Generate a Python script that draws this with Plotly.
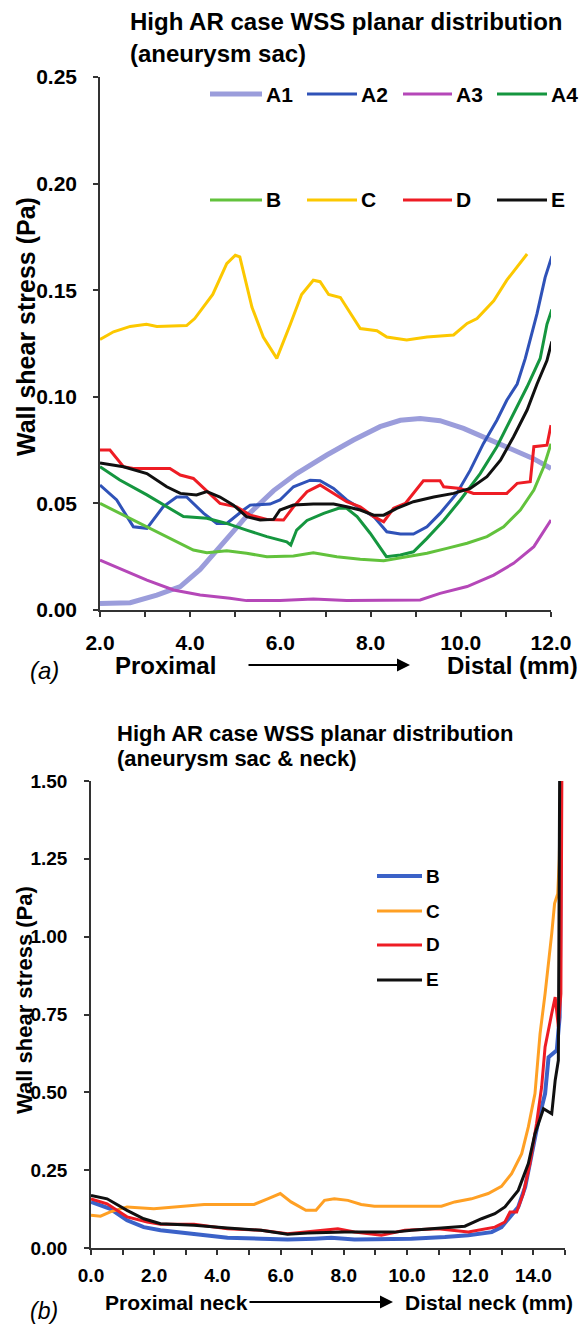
import plotly.graph_objects as go

W, H = 582, 1325

# ---------------- Panel (a) data: WSS (Pa) vs position (mm) ----------------
a1_x = [2.0, 2.67, 3.26, 3.78, 4.22, 4.66, 5.25, 5.85, 6.36, 7.03, 7.62, 8.21, 8.66, 9.1, 9.54, 10.06, 10.65, 11.17, 11.6, 12.0]
a1_y = [0.0031, 0.0034, 0.007, 0.011, 0.019, 0.030, 0.044, 0.056, 0.064, 0.0727, 0.0797, 0.086, 0.089, 0.0898, 0.0888, 0.0852, 0.0797, 0.075, 0.0711, 0.0664]

a2_x = [2.0, 2.37, 2.74, 3.04, 3.4, 3.7, 3.92, 4.3, 4.59, 4.81, 5.18, 5.33, 5.77, 5.99, 6.29, 6.66, 6.88, 7.18, 7.47, 7.84, 8.07, 8.36, 8.66, 8.95, 9.25, 9.54, 9.91, 10.21, 10.5, 10.8, 11.02, 11.25, 11.43, 11.69, 11.87, 12.02]
a2_y = [0.0586, 0.0516, 0.039, 0.0383, 0.0484, 0.053, 0.053, 0.0453, 0.0406, 0.0406, 0.0469, 0.0492, 0.0497, 0.0516, 0.0578, 0.0609, 0.0606, 0.057, 0.0516, 0.0469, 0.0438, 0.0367, 0.0356, 0.0356, 0.039, 0.0453, 0.0547, 0.0656, 0.078, 0.089, 0.0984, 0.106, 0.118, 0.139, 0.156, 0.166]

a3_x = [2.0, 2.52, 3.04, 3.63, 4.22, 4.88, 5.25, 5.99, 6.73, 7.47, 8.21, 9.1, 9.54, 10.14, 10.73, 11.17, 11.62, 12.0]
a3_y = [0.0234, 0.0188, 0.014, 0.0094, 0.007, 0.0055, 0.0044, 0.0044, 0.0052, 0.0044, 0.0044, 0.0047, 0.0078, 0.011, 0.0164, 0.0219, 0.0297, 0.0422]

a4_x = [2.0, 2.44, 3.04, 3.48, 3.85, 4.37, 4.81, 5.25, 5.7, 6.14, 6.23, 6.36, 6.59, 6.96, 7.29, 7.47, 7.7, 7.99, 8.21, 8.35, 8.66, 8.95, 9.25, 9.62, 9.99, 10.43, 10.8, 11.17, 11.47, 11.76, 11.91, 12.02]
a4_y = [0.0672, 0.061, 0.054, 0.0484, 0.0438, 0.043, 0.0406, 0.0375, 0.0344, 0.032, 0.0305, 0.0375, 0.042, 0.0453, 0.0477, 0.0477, 0.0438, 0.036, 0.029, 0.025, 0.0258, 0.0273, 0.0336, 0.042, 0.0516, 0.064, 0.0766, 0.092, 0.1047, 0.118, 0.134, 0.141]

b_x = [2.0, 2.44, 3.04, 3.55, 4.07, 4.37, 4.81, 5.25, 5.7, 6.29, 6.73, 7.25, 7.77, 8.29, 8.8, 9.25, 9.69, 10.14, 10.58, 10.95, 11.32, 11.62, 11.84, 12.0]
b_y = [0.05, 0.0453, 0.039, 0.0336, 0.0281, 0.0269, 0.0278, 0.0266, 0.025, 0.0253, 0.0269, 0.025, 0.0238, 0.0231, 0.025, 0.0266, 0.0289, 0.0313, 0.0344, 0.039, 0.0469, 0.0563, 0.0672, 0.078]

c_x = [2.0, 2.3, 2.67, 3.03, 3.26, 3.92, 4.1, 4.5, 4.81, 5.0, 5.1, 5.37, 5.62, 5.92, 6.22, 6.47, 6.73, 6.88, 7.07, 7.33, 7.51, 7.77, 8.14, 8.36, 8.8, 9.25, 9.84, 10.14, 10.36, 10.73, 11.02, 11.47]
c_y = [0.1269, 0.1305, 0.133, 0.134, 0.133, 0.1334, 0.1367, 0.148, 0.1625, 0.1664, 0.1656, 0.142, 0.128, 0.118, 0.134, 0.148, 0.1547, 0.154, 0.148, 0.1466, 0.1406, 0.132, 0.131, 0.128, 0.1266, 0.128, 0.129, 0.1344, 0.1367, 0.145, 0.1547, 0.167]

d_x = [2.0, 2.22, 2.52, 2.74, 3.55, 3.78, 4.07, 4.37, 4.66, 5.03, 5.33, 5.7, 6.07, 6.29, 6.59, 6.88, 7.18, 7.47, 7.77, 8.07, 8.29, 8.51, 8.77, 8.95, 9.17, 9.54, 9.62, 9.99, 10.28, 11.02, 11.25, 11.54, 11.62, 11.91, 12.0]
d_y = [0.075, 0.075, 0.0672, 0.0664, 0.0664, 0.0633, 0.0617, 0.0555, 0.05, 0.0484, 0.0445, 0.0425, 0.0422, 0.0484, 0.0555, 0.0586, 0.0547, 0.0508, 0.0484, 0.0438, 0.0414, 0.0477, 0.05, 0.0547, 0.0606, 0.0606, 0.0578, 0.057, 0.0547, 0.0547, 0.0594, 0.0602, 0.0766, 0.0773, 0.0867]

e_x = [2.0, 2.52, 3.04, 3.48, 3.78, 4.14, 4.37, 4.66, 4.96, 5.25, 5.55, 5.85, 5.99, 6.29, 6.73, 7.18, 7.47, 7.77, 8.07, 8.29, 8.58, 8.95, 9.4, 9.84, 10.21, 10.58, 10.88, 11.17, 11.47, 11.69, 11.91, 12.02]
e_y = [0.069, 0.0672, 0.064, 0.0578, 0.0547, 0.054, 0.0555, 0.053, 0.0492, 0.0438, 0.0422, 0.0425, 0.0469, 0.0492, 0.0497, 0.0497, 0.0484, 0.0469, 0.0445, 0.0445, 0.0477, 0.0508, 0.053, 0.0547, 0.057, 0.0625, 0.0703, 0.0813, 0.0938, 0.106, 0.117, 0.126]

# ---------------- Panel (b) data ----------------
nb_x = [0.0, 0.61, 1.14, 1.67, 2.2, 3.26, 4.32, 5.38, 6.22, 7.07, 7.6, 8.34, 9.61, 10.14, 11.2, 11.94, 12.68, 12.99, 13.26, 13.52, 13.74, 13.95, 14.16, 14.37, 14.48, 14.74, 14.83, 14.85, 14.87]
nb_y = [0.148, 0.126, 0.089, 0.067, 0.057, 0.046, 0.033, 0.030, 0.027, 0.030, 0.033, 0.027, 0.027, 0.030, 0.035, 0.041, 0.051, 0.067, 0.10, 0.132, 0.196, 0.303, 0.41, 0.496, 0.613, 0.635, 0.742, 1.03, 1.50]

nc_x = [0.0, 0.3, 0.61, 1.14, 1.99, 2.73, 3.58, 4.32, 5.16, 5.59, 5.99, 6.33, 6.8, 7.12, 7.39, 7.7, 8.13, 8.55, 8.97, 9.61, 11.09, 11.51, 12.04, 12.57, 12.99, 13.31, 13.63, 13.84, 14.05, 14.21, 14.37, 14.58, 14.67, 14.77, 14.82, 14.86]
nc_y = [0.105, 0.102, 0.116, 0.132, 0.126, 0.132, 0.140, 0.140, 0.140, 0.158, 0.175, 0.148, 0.121, 0.121, 0.153, 0.158, 0.153, 0.140, 0.134, 0.134, 0.134, 0.148, 0.158, 0.175, 0.198, 0.239, 0.303, 0.389, 0.496, 0.688, 0.817, 1.01, 1.106, 1.138, 1.25, 1.50]

nd_x = [0.0, 0.51, 1.14, 1.78, 2.2, 3.26, 4.32, 5.38, 6.22, 7.07, 7.81, 8.34, 9.19, 9.93, 10.98, 11.94, 12.78, 13.1, 13.26, 13.47, 13.68, 13.89, 14.1, 14.26, 14.37, 14.58, 14.69, 14.79, 14.87, 14.9]
nd_y = [0.158, 0.142, 0.10, 0.0835, 0.076, 0.076, 0.062, 0.057, 0.046, 0.0546, 0.062, 0.0514, 0.041, 0.057, 0.062, 0.0514, 0.067, 0.0835, 0.1156, 0.1156, 0.1745, 0.271, 0.40, 0.517, 0.646, 0.753, 0.806, 0.71, 0.817, 1.50]

ne_x = [0.0, 0.51, 1.14, 1.67, 2.2, 3.26, 4.32, 5.38, 6.22, 6.86, 8.02, 9.61, 10.14, 11.83, 12.36, 12.78, 13.1, 13.52, 13.84, 14.05, 14.32, 14.58, 14.69, 14.79, 14.83]
ne_y = [0.169, 0.158, 0.121, 0.094, 0.078, 0.073, 0.064, 0.057, 0.044, 0.048, 0.051, 0.051, 0.057, 0.070, 0.094, 0.110, 0.132, 0.185, 0.271, 0.367, 0.447, 0.431, 0.539, 0.603, 1.50]

# ---------------- tick labels ----------------
top_xtick_vals = [2, 3, 4, 5, 6, 7, 8, 9, 10, 11, 12]
top_xtick_text = ["2.0", "", "4.0", "", "6.0", "", "8.0", "", "10.0", "", "12.0"]
top_ytick_vals = [0.0, 0.05, 0.10, 0.15, 0.20, 0.25]
top_ytick_text = ["0.00", "0.05", "0.10", "0.15", "0.20", "0.25"]
bot_xtick_vals = list(range(0, 16))
bot_xtick_text = ["0.0", "", "2.0", "", "4.0", "", "6.0", "", "8.0", "", "10.0", "", "12.0", "", "14.0", ""]
bot_ytick_vals = [0.0, 0.25, 0.50, 0.75, 1.00, 1.25, 1.50]
bot_ytick_text = ["0.00", "0.25", "0.50", "0.75", "1.00", "1.25", "1.50"]

FONT = "Liberation Sans, Arial, sans-serif"


def px(x):
    return x / W


def py(y):
    return 1 - y / H


fig = go.Figure()
shapes = []
ann = []


def text(t, x, y, size, xanchor="left", bold=True, italic=False, angle=0):
    ann.append(dict(text=t, x=px(x), y=py(y), xref="paper", yref="paper",
                    xanchor=xanchor, yanchor="middle", showarrow=False,
                    textangle=angle,
                    font=dict(size=size, family=FONT, color="black",
                              weight="bold" if bold else "normal",
                              style="italic" if italic else "normal")))


def key(x0, x1, y, col, w, label, size):
    # legend key: a short line sample followed by its label
    shapes.append(dict(type="line", xref="paper", yref="paper",
                       x0=px(x0), x1=px(x1), y0=py(y), y1=py(y),
                       line=dict(color=col, width=w)))
    text(label, x1 + 2, y, size)


# name, x, y, colour, width, legend key (x0, x1, y)
top_series = [
    ("A1", a1_x, a1_y, "#9b9ddb", 5, (210, 262, 94)),
    ("A2", a2_x, a2_y, "#2f52b8", 3, (307, 357, 94)),
    ("A3", a3_x, a3_y, "#b547b8", 3, (403, 452, 94)),
    ("A4", a4_x, a4_y, "#15963f", 3, (497, 547, 94)),
    ("B", b_x, b_y, "#62c23c", 3, (210, 262, 200)),
    ("C", c_x, c_y, "#fcc800", 3, (307, 357, 200)),
    ("D", d_x, d_y, "#ee1c24", 3, (403, 452, 200)),
    ("E", e_x, e_y, "#101010", 3, (497, 547, 200)),
]
for name, xs, ys, col, w, k in top_series:
    fig.add_trace(go.Scatter(x=xs, y=ys, mode="lines", name=name,
                             line=dict(color=col, width=w),
                             xaxis="x", yaxis="y", showlegend=False))
    key(k[0], k[1], k[2], col, w, name, 21)

bot_series = [
    ("B", nb_x, nb_y, "#3b62c8", 4, (377, 422, 876)),
    ("C", nc_x, nc_y, "#ffa024", 3, (377, 422, 911)),
    ("D", nd_x, nd_y, "#ee1c24", 3, (377, 422, 945)),
    ("E", ne_x, ne_y, "#101010", 3, (377, 422, 980)),
]
for name, xs, ys, col, w, k in bot_series:
    fig.add_trace(go.Scatter(x=xs, y=ys, mode="lines", name=name,
                             line=dict(color=col, width=w),
                             xaxis="x2", yaxis="y2", showlegend=False))
    key(k[0], k[1], k[2], col, w, name, 19)

axis_common = dict(showline=True, linecolor="#333333", linewidth=1.5,
                   ticks="outside", ticklen=5, tickwidth=1.5, tickcolor="#333333",
                   showgrid=False, zeroline=False, tickmode="array",
                   automargin=False)

fig.update_layout(
    width=W, height=H, autosize=False,
    margin=dict(l=0, r=0, t=0, b=0, autoexpand=False),
    showlegend=False,
    paper_bgcolor="white", plot_bgcolor="white",
    font=dict(family=FONT, color="black"),
    xaxis=dict(domain=[px(100), px(551)], range=[2, 12], anchor="y",
               tickvals=top_xtick_vals, ticktext=top_xtick_text,
               tickfont=dict(size=21, weight="bold"), ticklabelstandoff=8,
               **axis_common),
    yaxis=dict(domain=[py(610), py(77)], range=[0, 0.25], anchor="x",
               tickvals=top_ytick_vals, ticktext=top_ytick_text,
               tickfont=dict(size=21, weight="bold"), ticklabelstandoff=12,
               **axis_common),
    xaxis2=dict(domain=[px(91), px(565)], range=[0, 15], anchor="y2",
                tickvals=bot_xtick_vals, ticktext=bot_xtick_text,
                tickfont=dict(size=19, weight="bold"), ticklabelstandoff=4,
                **axis_common),
    yaxis2=dict(domain=[py(1248), py(781)], range=[0, 1.5], anchor="x2",
                tickvals=bot_ytick_vals, ticktext=bot_ytick_text,
                tickfont=dict(size=19, weight="bold"), ticklabelstandoff=13,
                **axis_common),
)

# Panel (a) texts
text("High AR case WSS planar distribution", 128, 22, 24)
text("(aneurysm sac)", 128, 53, 24)
text("Wall shear stress (Pa)", 26, 327, 25, xanchor="center", angle=-90)
text("Proximal", 113, 665, 24)
text("Distal (mm)", 445, 665, 24)
text("(a)", 28, 670, 24, bold=False, italic=True)

# Panel (b) texts
text("High AR case WSS planar distribution", 115, 733, 22)
text("(aneurysm sac &amp; neck)", 115, 758, 22)
text("Wall shear stress (Pa)", 24, 1000, 22, xanchor="center", angle=-90)
text("Proximal neck", 103, 1302, 21)
text("Distal neck (mm)", 403, 1302, 21)
text("(b)", 28, 1311, 23, bold=False, italic=True)

# arrows under the x axes
for (x0, x1, y) in [(247, 410, 665), (248, 393, 1302)]:
    ann.append(dict(text="", x=px(x1), y=py(y), xref="paper", yref="paper",
                    ax=-(x1 - x0), ay=0, axref="pixel", ayref="pixel",
                    showarrow=True, arrowhead=2, arrowsize=1.3, arrowwidth=2,
                    arrowcolor="black"))

fig.update_layout(annotations=ann, shapes=shapes)

fig.write_html("out.html",
               config={"displayModeBar": False},
               post_script="document.body.style.margin='0';"
                           "document.body.style.overflow='hidden';")
